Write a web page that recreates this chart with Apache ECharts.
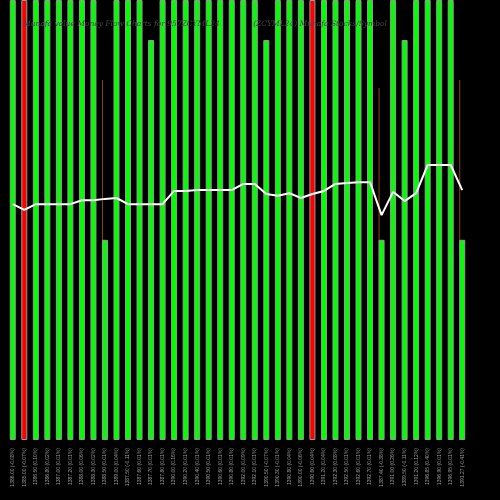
<!DOCTYPE html>
<html><head><meta charset="utf-8">
<script src="https://cdn.jsdelivr.net/npm/echarts@6/dist/echarts.min.js"></script>
<style>html,body{margin:0;background:#000}#c{width:500px;height:500px}</style></head>
<body><div id="c"></div>
<script>
const categories = ["1386.00 (-0.08%)","1385.00 (-0.07%)","1386.50 (0.10%)","1386.80 (0.02%)","1387.00 (0.01%)","1387.20 (0.01%)","1388.00 (0.06%)","1388.30 (0.02%)","1388.50 (0.01%)","1389.00 (0.04%)","1387.50 (-0.11%)","1387.60 (0.01%)","1387.70 (0.01%)","1387.80 (0.01%)","1390.00 (0.16%)","1390.20 (0.01%)","1390.40 (0.01%)","1390.50 (0.01%)","1390.60 (0.01%)","1390.80 (0.01%)","1392.00 (0.09%)","1392.10 (0.01%)","1390.50 (-0.07%)","1390.30 (-0.01%)","1390.80 (0.04%)","1390.00 (-0.06%)","1390.60 (0.04%)","1391.20 (0.04%)","1392.30 (0.08%)","1392.50 (0.01%)","1392.60 (0.01%)","1392.70 (0.01%)","1387.40 (-0.38%)","1391.00 (0.26%)","1389.50 (-0.11%)","1391.20 (0.12%)","1396.85 (0.40%)","1396.90 (0.01%)","1396.95 (0.01%)","1391.27 (-0.41%)"];
const barValues = [100,100,100,100,100,100,100,100,45.5,100,100,100,90.9,100,100,100,100,100,100,100,100,100,90.9,100,100,100,100,100,100,100,100,100,45.5,100,90.9,100,100,100,100,45.5];
const barColors = ["g","r","g","g","g","g","g","g","g","g","g","g","g","g","g","g","g","g","g","g","g","g","g","g","g","g","r","g","g","g","g","g","g","g","g","g","g","g","g","g"];
const wickValues = [null,null,null,null,null,null,null,null,81.8,null,null,null,null,null,null,null,null,null,null,null,null,null,null,null,null,null,null,null,null,null,null,null,80,null,null,null,null,null,null,81.8];
const lineValues = [53.6,52.3,53.6,53.6,53.6,53.6,54.5,54.5,54.8,55,53.6,53.6,53.6,53.6,56.6,56.6,56.8,56.8,56.8,56.8,58.2,58.2,55.9,55.5,56.1,55,55.9,56.6,58.2,58.4,58.6,58.6,51.1,56.4,54.3,56.1,62.5,62.5,62.5,56.8];
const chart = echarts.init(document.getElementById('c'));
chart.setOption({
  backgroundColor:'#000',
  animation:false,
  title:{text:'Munafa value Money Flow Charts for 957ZCYML24              (ZCYML24) Munafa Stocks/Symbol',left:18,top:15,textStyle:{color:'#444',fontSize:7.5,fontWeight:'normal',fontStyle:'italic',fontFamily:'DejaVu Serif'}},
  grid:{left:7,right:32,top:0,bottom:60},
  xAxis:{type:'category',data:categories,axisLine:{show:false},axisTick:{show:false},
    axisLabel:{rotate:90,color:'#999',fontSize:5,interval:0,margin:8}},
  yAxis:{type:'value',min:0,max:100,show:false,splitLine:{show:false}},
  series:[
    {type:'bar',data:wickValues,barWidth:1,itemStyle:{color:'#8B4513'},z:1},
    {type:'bar',barGap:'-100%',barWidth:6,z:2,
     data:barValues.map((v,i)=>({value:v,itemStyle:{color:barColors[i]==='r'?'#ff0000':'#00ff00',borderColor:'#999',borderWidth:1}}))},
    {type:'line',data:lineValues,symbol:'none',z:3,lineStyle:{color:'#fff',width:2}}
  ]
});
</script></body></html>
